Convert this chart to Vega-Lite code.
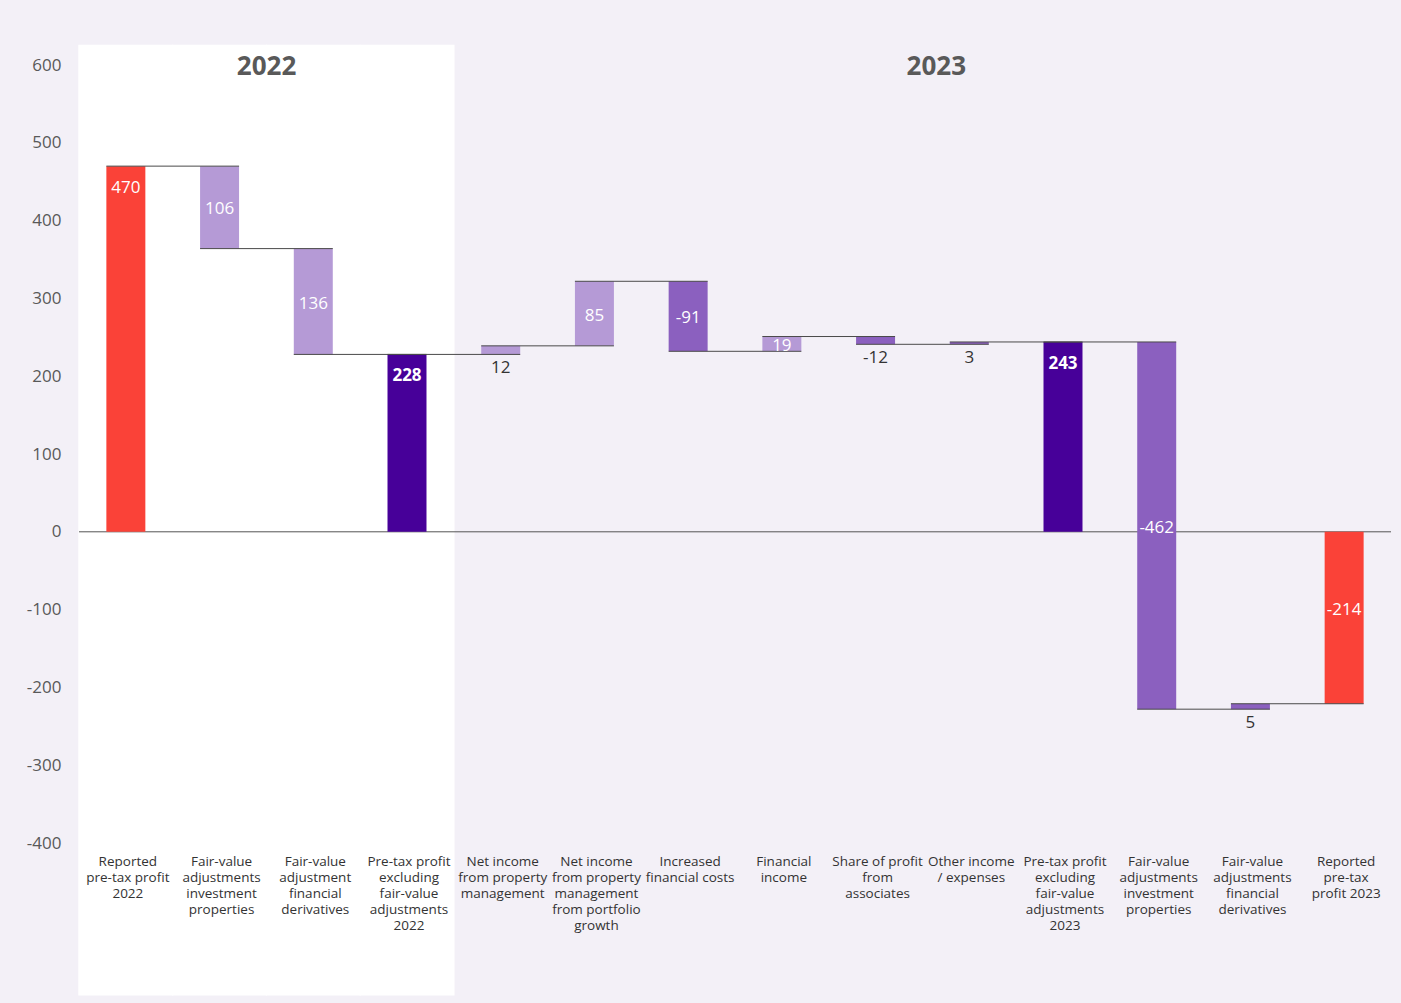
{
  "$schema": "https://vega.github.io/schema/vega-lite/v6.json",
  "width": 1312,
  "height": 778,
  "autosize": "none",
  "padding": {"left": 79, "top": 65, "right": 10, "bottom": 160},
  "background": "#f3f0f7",
  "config": {
    "font": "Open Sans",
    "view": {"stroke": null},
    "axis": {"labelFont": "Open Sans"}
  },
  "datasets": {
    "steps": [
      {"step": "s01", "year": "2022", "label": "Reported|pre-tax profit|2022", "kind": "reported", "start": 0, "end": 470, "value": 470},
      {"step": "s02", "year": "2022", "label": "Fair-value|adjustments|investment|properties", "kind": "positive", "start": 470, "end": 364, "value": 106},
      {"step": "s03", "year": "2022", "label": "Fair-value|adjustment|financial|derivatives", "kind": "positive", "start": 364, "end": 228, "value": 136},
      {"step": "s04", "year": "2022", "label": "Pre-tax profit|excluding|fair-value|adjustments|2022", "kind": "subtotal", "start": 0, "end": 228, "value": 228},
      {"step": "s05", "year": "2023", "label": "Net income|from property|management", "kind": "positive", "start": 228, "end": 239, "value": 12},
      {"step": "s06", "year": "2023", "label": "Net income|from property|management|from portfolio|growth", "kind": "positive", "start": 239, "end": 322, "value": 85},
      {"step": "s07", "year": "2023", "label": "Increased|financial costs", "kind": "negative", "start": 322, "end": 232, "value": -91},
      {"step": "s08", "year": "2023", "label": "Financial|income", "kind": "positive", "start": 232, "end": 251, "value": 19},
      {"step": "s09", "year": "2023", "label": "Share of profit|from|associates", "kind": "negative", "start": 251, "end": 241, "value": -12},
      {"step": "s10", "year": "2023", "label": "Other income|/ expenses", "kind": "negative", "start": 241, "end": 244, "value": 3},
      {"step": "s11", "year": "2023", "label": "Pre-tax profit|excluding|fair-value|adjustments|2023", "kind": "subtotal", "start": 0, "end": 244, "value": 243},
      {"step": "s12", "year": "2023", "label": "Fair-value|adjustments|investment|properties", "kind": "negative", "start": 244, "end": -228, "value": -462},
      {"step": "s13", "year": "2023", "label": "Fair-value|adjustments|financial|derivatives", "kind": "negative", "start": -228, "end": -221, "value": 5},
      {"step": "s14", "year": "2023", "label": "Reported|pre-tax|profit 2023", "kind": "reported", "start": 0, "end": -221, "value": -214}
    ],
    "years": [
      {"year": "2022", "at": "s02", "side": "right"},
      {"year": "2023", "at": "s10", "side": "left"}
    ]
  },
  "data": {"name": "steps"},
  "encoding": {
    "x": {
      "field": "step",
      "type": "nominal",
      "sort": null,
      "axis": null,
      "scale": {"paddingInner": 0.584, "paddingOuter": 0.292}
    }
  },
  "layer": [
    {
      "transform": [{"filter": "datum.year == '2022'"}],
      "mark": {"type": "bar", "color": "#ffffff", "width": {"band": 2.44}},
      "encoding": {
        "y": {"datum": 626, "type": "quantitative", "scale": {"domain": [-400, 600], "nice": false, "zero": false},
          "axis": {"values": [-400, -300, -200, -100, 0, 100, 200, 300, 400, 500, 600], "labelExpr": "toString(datum.value)", "title": null, "ticks": false, "domain": false, "grid": false, "labelPadding": 18, "labelFontSize": 17, "labelColor": "#595959"}},
        "y2": {"datum": -596}
      }
    },
    {
      "data": {"values": [{}]},
      "mark": {"type": "rule", "color": "#555555", "strokeWidth": 1},
      "encoding": {"y": {"datum": 0, "type": "quantitative"}, "x": null}
    },
    {
      "mark": {"type": "bar"},
      "encoding": {
        "y": {"field": "start", "type": "quantitative"},
        "y2": {"field": "end"},
        "color": {
          "field": "kind",
          "type": "nominal",
          "legend": null,
          "scale": {"domain": ["reported", "subtotal", "positive", "negative"], "range": ["#fa4238", "#470099", "#b59ad6", "#8b60bf"]}
        }
      }
    },
    {
      "transform": [
        {"window": [{"op": "lead", "field": "step", "as": "next"}]},
        {"filter": "datum.next != null"}
      ],
      "mark": {"type": "rule", "color": "#4a4a4a", "strokeWidth": 1, "xOffset": -19.5, "x2Offset": 19.5},
      "encoding": {
        "x2": {"field": "next"},
        "y": {"field": "end", "type": "quantitative"}
      }
    },
    {
      "transform": [{"filter": "datum.kind == 'subtotal'"}],
      "mark": {"type": "text", "color": "#ffffff", "fontSize": 17, "fontWeight": "bold", "baseline": "middle", "dy": 22},
      "encoding": {
        "y": {"field": "end", "type": "quantitative"},
        "text": {"field": "value", "type": "nominal"}
      }
    },
    {
      "transform": [{"filter": "datum.kind == 'reported' && datum.end > 0"}],
      "mark": {"type": "text", "color": "#ffffff", "fontSize": 17, "baseline": "middle", "dy": 22},
      "encoding": {
        "y": {"field": "end", "type": "quantitative"},
        "text": {"field": "value", "type": "nominal"}
      }
    },
    {
      "transform": [
        {"filter": "datum.kind == 'reported' && datum.end < 0"},
        {"calculate": "(datum.start + datum.end) / 2", "as": "mid"}
      ],
      "mark": {"type": "text", "color": "#ffffff", "fontSize": 17, "baseline": "middle", "dy": -8},
      "encoding": {
        "y": {"field": "mid", "type": "quantitative"},
        "text": {"field": "value", "type": "nominal"}
      }
    },
    {
      "transform": [
        {"filter": "(datum.kind == 'positive' || datum.kind == 'negative') && abs(datum.end - datum.start) >= 15"},
        {"calculate": "(datum.start + datum.end) / 2", "as": "mid"}
      ],
      "mark": {"type": "text", "color": "#ffffff", "fontSize": 17, "baseline": "middle", "dy": 2},
      "encoding": {
        "y": {"field": "mid", "type": "quantitative"},
        "text": {"field": "value", "type": "nominal"}
      }
    },
    {
      "transform": [
        {"filter": "(datum.kind == 'positive' || datum.kind == 'negative') && abs(datum.end - datum.start) < 15"},
        {"calculate": "min(datum.start, datum.end)", "as": "low"}
      ],
      "mark": {"type": "text", "color": "#333333", "fontSize": 17, "baseline": "middle", "dy": 14},
      "encoding": {
        "y": {"field": "low", "type": "quantitative"},
        "text": {"field": "value", "type": "nominal"}
      }
    },
    {
      "mark": {"type": "text", "color": "#333333", "fontSize": 13.5, "baseline": "top", "align": "center", "lineBreak": "|", "lineHeight": 16, "dy": 12, "dx": 2},
      "encoding": {
        "y": {"datum": -400, "type": "quantitative"},
        "text": {"field": "label", "type": "nominal"}
      }
    },
    {
      "data": {"name": "years"},
      "transform": [{"filter": "datum.side == 'right'"}],
      "mark": {"type": "text", "color": "#595959", "fontSize": 26, "fontWeight": "bold", "baseline": "middle", "dx": 47},
      "encoding": {
        "x": {"field": "at", "type": "nominal"},
        "y": {"datum": 598, "type": "quantitative"},
        "text": {"field": "year", "type": "nominal"}
      }
    },
    {
      "data": {"name": "years"},
      "transform": [{"filter": "datum.side == 'left'"}],
      "mark": {"type": "text", "color": "#595959", "fontSize": 26, "fontWeight": "bold", "baseline": "middle", "dx": -33},
      "encoding": {
        "x": {"field": "at", "type": "nominal"},
        "y": {"datum": 598, "type": "quantitative"},
        "text": {"field": "year", "type": "nominal"}
      }
    }
  ]
}
